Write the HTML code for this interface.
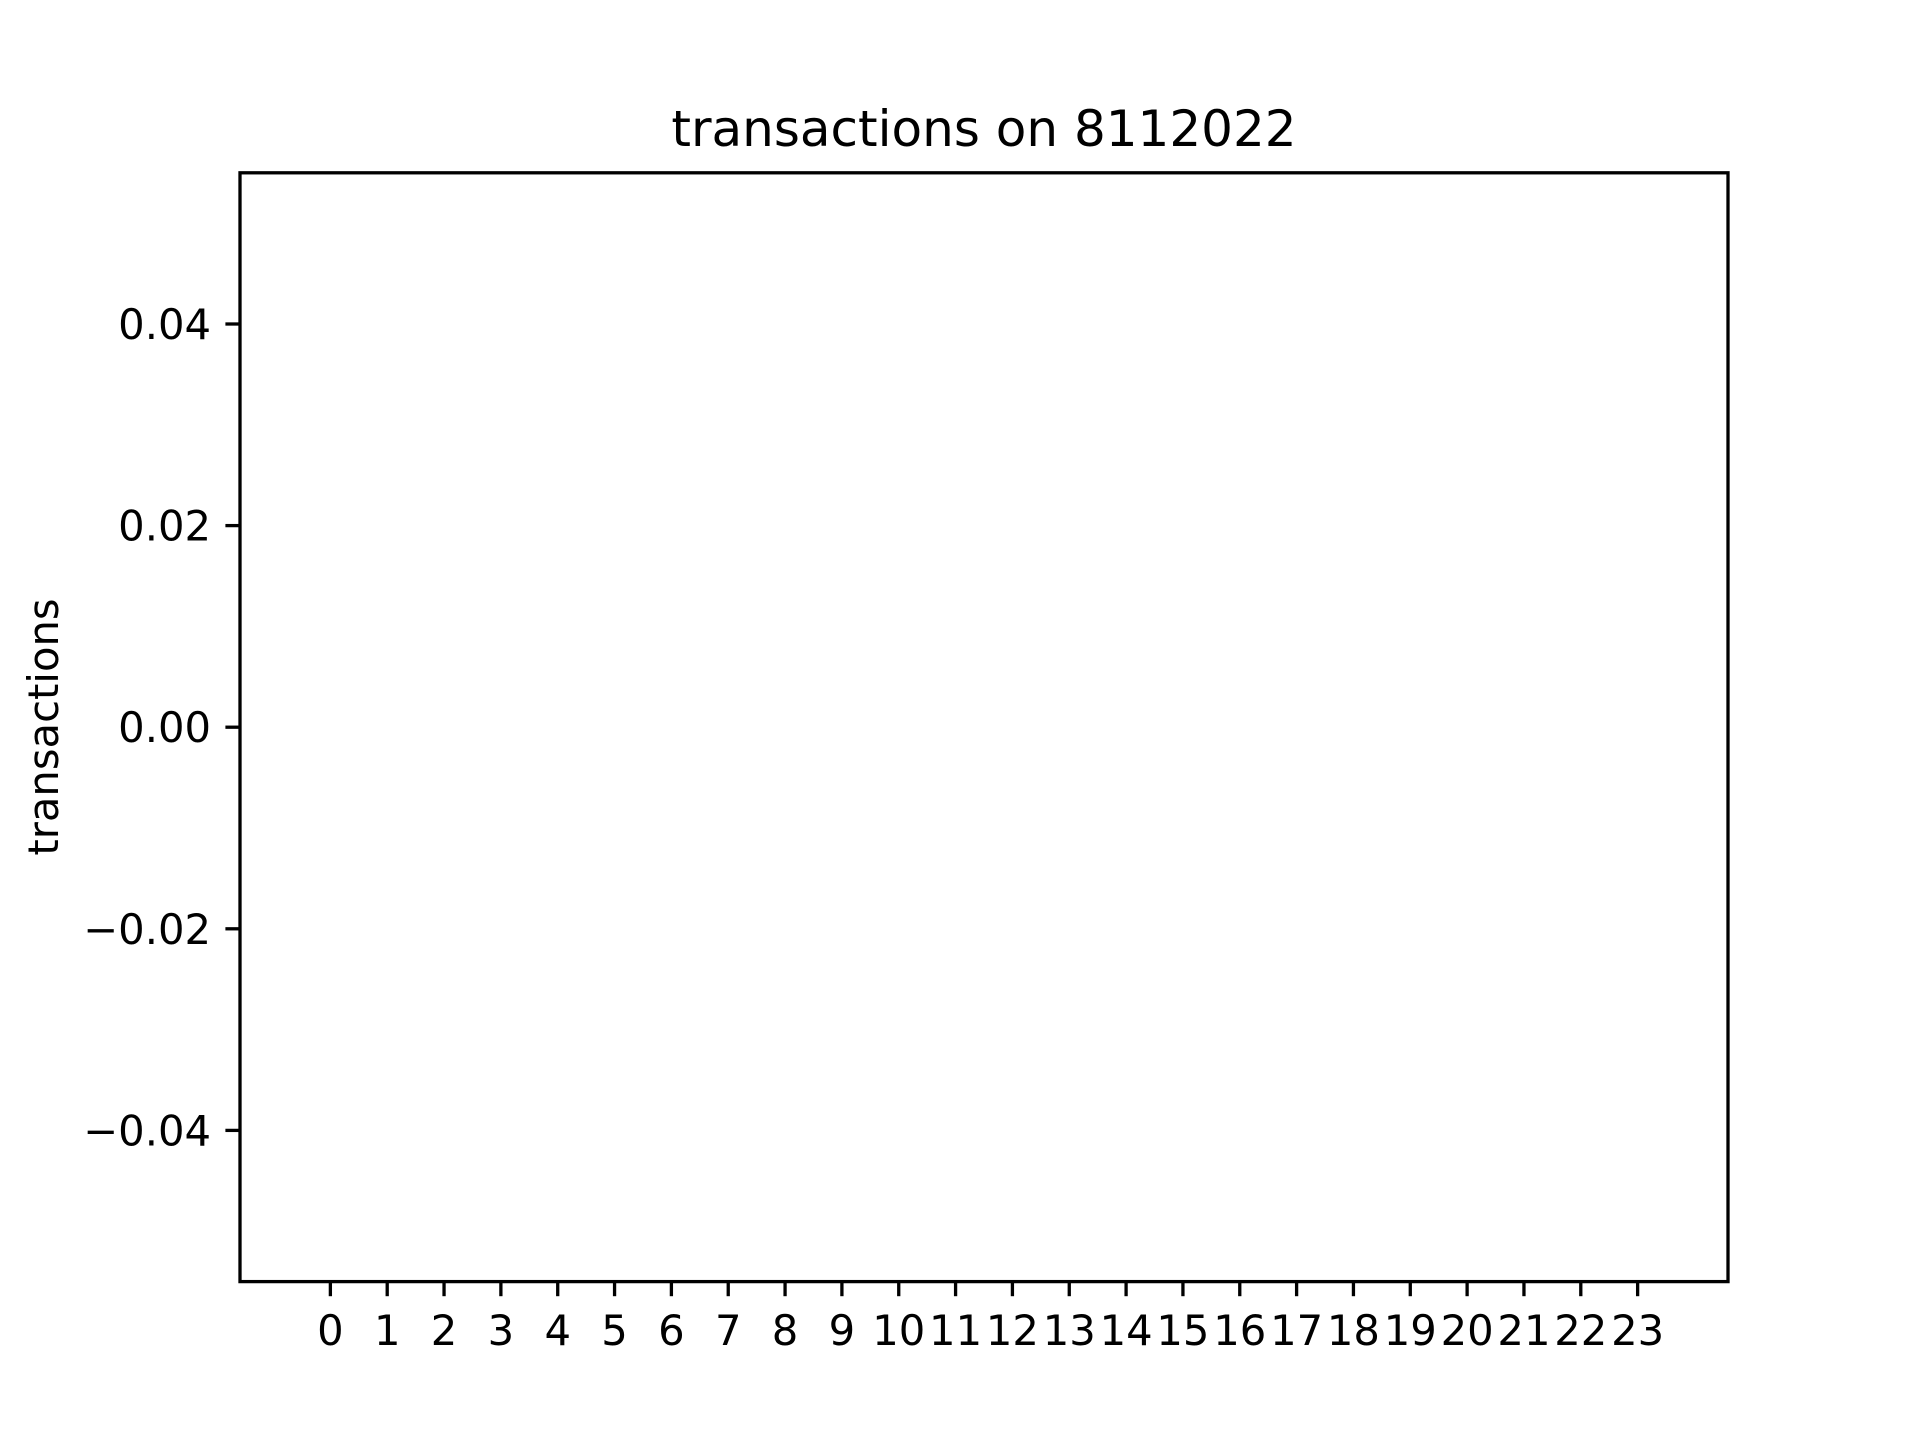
<!DOCTYPE html>
<html><head><meta charset="utf-8"><style>
html,body{margin:0;padding:0;background:#fff;}
svg{display:block;font-family:"DejaVu Sans","Liberation Sans",sans-serif;}
</style></head><body>
<svg id="chart" width="1920" height="1440" viewBox="0 0 1920 1440" xmlns="http://www.w3.org/2000/svg">
<rect width="1920" height="1440" fill="#fff"/>
<text x="984" y="146" font-size="50" text-anchor="middle" fill="#000">transactions on 8112022</text>
<text transform="translate(58,727) rotate(-90)" font-size="41.7" text-anchor="middle" fill="#000">transactions</text>
<g id="bars"></g>
<g id="xticks"></g>
<g id="yticks"></g>
<rect x="240" y="172.8" width="1488" height="1108.8" fill="none" stroke="#000" stroke-width="3.3"/>
</svg>
<script>
const categories = [0,1,2,3,4,5,6,7,8,9,10,11,12,13,14,15,16,17,18,19,20,21,22,23];
const values = [0,0,0,0,0,0,0,0,0,0,0,0,0,0,0,0,0,0,0,0,0,0,0,0];
const yTicks = [-0.04,-0.02,0,0.02,0.04];
const yTickLabels = ["\u22120.04","\u22120.02","0.00","0.02","0.04"];

const L=240,R=1728,T=172.8,B=1281.6;
const xMin=-1.59,xMax=24.59,yMin=-0.055,yMax=0.055;
const xs=v=>L+(v-xMin)/(xMax-xMin)*(R-L);
const ys=v=>B-(v-yMin)/(yMax-yMin)*(B-T);
const NS="http://www.w3.org/2000/svg";
const bars=document.getElementById('bars'),xt=document.getElementById('xticks'),yt=document.getElementById('yticks');
categories.forEach((c,i)=>{
  const r=document.createElementNS(NS,'rect');
  const y0=ys(0),y1=ys(values[i]);
  r.setAttribute('x',xs(c-0.4));r.setAttribute('width',xs(c+0.4)-xs(c-0.4));
  r.setAttribute('y',Math.min(y0,y1));r.setAttribute('height',Math.abs(y1-y0));
  r.setAttribute('fill','#1f77b4');
  
  
  bars.appendChild(r);
  const l=document.createElementNS(NS,'line');
  l.setAttribute('x1',xs(c));l.setAttribute('x2',xs(c));l.setAttribute('y1',B);l.setAttribute('y2',B+14.6);
  l.setAttribute('stroke','#000');l.setAttribute('stroke-width','3.3');
  
  
  xt.appendChild(l);
  const t=document.createElementNS(NS,'text');
  t.setAttribute('x',xs(c));t.setAttribute('y',1345);t.setAttribute('font-size','41.7');t.setAttribute('text-anchor','middle');
  t.textContent=c;
  
  
  xt.appendChild(t);
});
yTicks.forEach((v,i)=>{
  const l=document.createElementNS(NS,'line');
  l.setAttribute('x1',L-14.6);l.setAttribute('x2',L);l.setAttribute('y1',ys(v));l.setAttribute('y2',ys(v));
  l.setAttribute('stroke','#000');l.setAttribute('stroke-width','3.3');
  
  
  yt.appendChild(l);
  const t=document.createElementNS(NS,'text');
  t.setAttribute('x',L-29);t.setAttribute('y',ys(v)+15);t.setAttribute('font-size','41.7');t.setAttribute('text-anchor','end');
  t.textContent=yTickLabels[i];
  
  
  yt.appendChild(t);
});
</script>
</body></html>
